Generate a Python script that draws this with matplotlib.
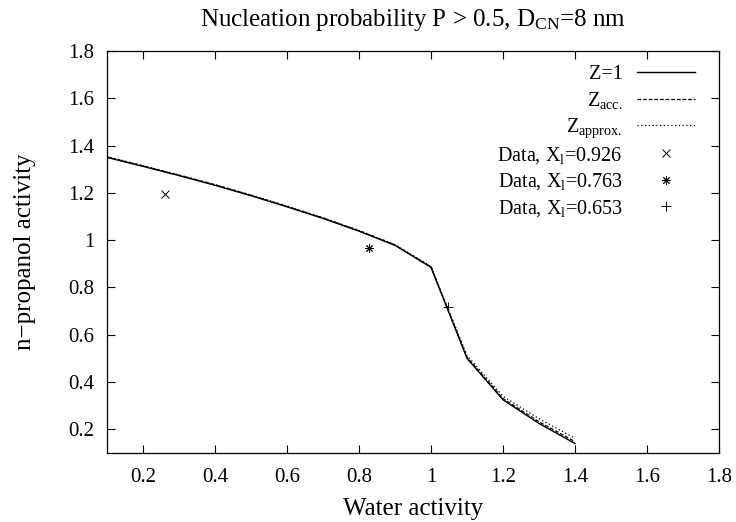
import numpy as np
import matplotlib
matplotlib.use("Agg")
import matplotlib.pyplot as plt

plt.rcParams['font.family'] = ['Liberation Serif', 'DejaVu Serif']
plt.rcParams['mathtext.fontset'] = 'custom'
plt.rcParams['mathtext.rm'] = 'Liberation Serif'
plt.rcParams['mathtext.it'] = 'Liberation Serif:italic'

# water activity grid of the model curves
aw = [0.1, 0.2, 0.3, 0.4, 0.5, 0.6, 0.7, 0.8, 0.9, 1.0, 1.1, 1.2, 1.3, 1.4]
# n-propanol activity for the three Zeldovich factor choices
z_one = [1.350, 1.312, 1.273, 1.232, 1.188, 1.141, 1.092, 1.038, 0.978, 0.885, 0.500, 0.325, 0.225, 0.140]
z_acc = [1.352, 1.314, 1.275, 1.234, 1.190, 1.143, 1.094, 1.040, 0.980, 0.887, 0.505, 0.330, 0.232, 0.148]
z_approx = [1.353, 1.315, 1.276, 1.235, 1.191, 1.144, 1.095, 1.041, 0.981, 0.889, 0.512, 0.340, 0.245, 0.162]

# measured points
data_x1, data_y1 = [0.261], [1.195]
data_x2, data_y2 = [0.829], [0.968]
data_x3, data_y3 = [1.047], [0.717]

fig = plt.figure(figsize=(7.36, 5.22), dpi=100)
ax = fig.add_axes([0.1454, 0.1322, 0.8315, 0.7701])

ax.plot(aw, z_one, color='black', lw=1.0, label='Z=1')
ax.plot(aw, z_acc, color='black', lw=0.9, dashes=(3, 1.5), label=r'Z$_{\mathrm{acc.}}$')
ax.plot(aw, z_approx, color='black', lw=0.9, dashes=(1, 2), label=r'Z$_{\mathrm{approx.}}$')
ax.plot(data_x1, data_y1, ls='none', marker='x', ms=5.5, mew=0.7, color='black',
        label=r'Data, X$_{\mathrm{l}}$=0.926')
ax.plot(data_x2, data_y2, ls='none', marker=(8, 2, 0), ms=6, mew=0.7, color='black',
        label=r'Data, X$_{\mathrm{l}}$=0.763')
ax.plot(data_x3, data_y3, ls='none', marker='+', ms=6.5, mew=0.7, color='black',
        label=r'Data, X$_{\mathrm{l}}$=0.653')

ax.set_xlim(0.1, 1.8)
ax.set_ylim(0.1, 1.8)
ax.set_xticks([0.2, 0.4, 0.6, 0.8, 1.0, 1.2, 1.4, 1.6, 1.8])
ax.set_xticklabels(['0.2', '0.4', '0.6', '0.8', '1', '1.2', '1.4', '1.6', '1.8'])
ax.set_yticks([0.2, 0.4, 0.6, 0.8, 1.0, 1.2, 1.4, 1.6, 1.8])
ax.set_yticklabels(['0.2', '0.4', '0.6', '0.8', '1', '1.2', '1.4', '1.6', '1.8'])
ax.tick_params(direction='in', top=True, right=True, length=6, width=0.8,
               labelsize=15)
ax.tick_params(axis='x', pad=11)
ax.tick_params(axis='y', pad=9)
for s in ax.spines.values():
    s.set_linewidth(0.9)

ax.set_xlabel('Water activity', fontsize=18, labelpad=8)
ax.set_ylabel('n\u2212propanol activity', fontsize=18, labelpad=23)
ax.set_title(r'Nucleation probability P > 0.5, D$_{\mathrm{CN}}$=8 nm', fontsize=18, pad=18)

ax.legend(loc='upper right', bbox_to_anchor=(0.974, 0.985), borderaxespad=0,
          frameon=False, markerfirst=False, fontsize=14.5,
          handlelength=2.9, numpoints=1, labelspacing=0.27, handletextpad=0.7)

plt.savefig('out.png', dpi=100)
